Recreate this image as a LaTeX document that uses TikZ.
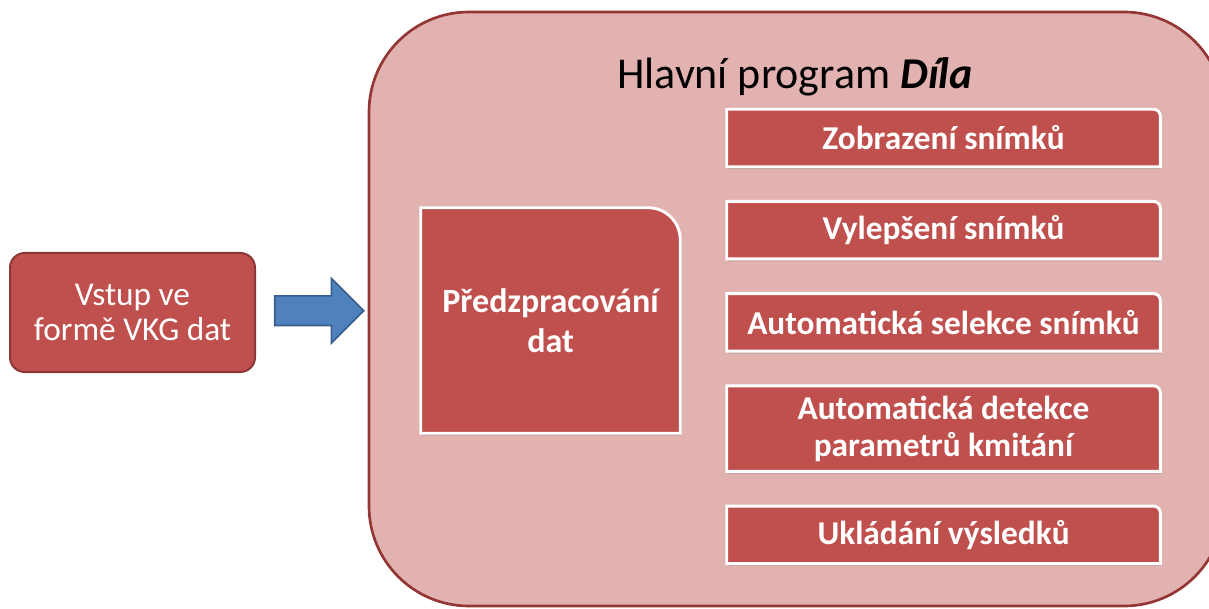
\documentclass[tikz,border=0pt]{standalone}
\usepackage{fontspec}
\setmainfont{Carlito}
\usetikzlibrary{positioning, calc, backgrounds, shadows, shapes.arrows}
\definecolor{redA}{HTML}{C0504D}
\definecolor{redB}{HTML}{8C3836}
\definecolor{roseA}{HTML}{E2B2B1}
\definecolor{roseB}{HTML}{943634}
\definecolor{blueA}{HTML}{4F81BD}
\definecolor{blueB}{HTML}{385D8A}
\newcommand{\pxu}{0.75pt}
\tikzset{
  inbox/.style={
    draw=redB, fill=redA, rounded corners=11pt,
    line width=1.5pt, align=center, text=white, inner sep=0pt,
    minimum width=245*\pxu, minimum height=119*\pxu,
    font=\fontsize{25}{26.5}\selectfont
  },
  mainbox/.style={
    draw=roseB, fill=roseA, rounded corners=75pt, line width=2pt,
    minimum width=855*\pxu, minimum height=594*\pxu
  },
  prebox/.style={
    align=center, text=white, inner sep=0pt,
    minimum width=259*\pxu, minimum height=225*\pxu,
    font=\fontsize{25.5}{30}\selectfont\bfseries
  },
  taskbox/.style={
    align=center, text=white, inner sep=0pt,
    minimum width=433*\pxu, minimum height=57*\pxu,
    font=\fontsize{25}{28}\selectfont\bfseries
  },
  tab/.style={
    draw=white, fill=redA, line width=2.2pt,
    drop shadow={shadow xshift=1pt, shadow yshift=-1.8pt, opacity=.35}
  },
  blockarrow/.style={
    single arrow, draw=blueB, fill=blueA, line width=1.2pt,
    inner xsep=0pt, inner ysep=14*\pxu,
    minimum height=89*\pxu, minimum width=63*\pxu,
    single arrow head extend=17.5*\pxu
  }
}

\begin{document}
\begin{tikzpicture}[x=0.75pt, y=-0.75pt, node distance=26pt]
  \useasboundingbox (0,0) rectangle (1209,609);

  \begin{scope}[on background layer]
    \node[mainbox] (hlavni) at (796.5,309) {};
  \end{scope}

  \node[inbox] (vstup) at (132.5,312.5) {Vstup ve\\formě VKG dat};
  \node[blockarrow] (sipka) at ($(vstup.east)!0.5!(hlavni.west)$) {};

  \node[font=\fontsize{33}{38}\selectfont] (titul) at (795,77)
    {Hlavní program \textbf{\textit{Díla}}};

  \node[prebox] (pre) at (550.5,320.5) {Předzpracování\\dat};

  \node[taskbox] (zobr) at (943.5,138) {Zobrazení snímků};
  \node[taskbox, below=of zobr] (vylep) {Vylepšení snímků};
  \node[taskbox, below=of vylep] (selek) {Automatická selekce snímků};
  \node[taskbox, below=of selek, minimum height=85*\pxu] (detek)
    {Automatická detekce\\parametrů kmitání};
  \node[taskbox, below=of detek] (uklad) {Ukládání výsledků};

  \begin{scope}[on background layer]
    \foreach \n/\r in {pre/24pt, zobr/5pt, vylep/5pt, selek/5pt, detek/5pt, uklad/5pt}
      \draw[tab] (\n.south west) -- (\n.north west)
        -- ([xshift=-\r]\n.north east) arc[start angle=90, end angle=0, radius=\r]
        -- (\n.south east) -- cycle;
  \end{scope}
\end{tikzpicture}
\end{document}
